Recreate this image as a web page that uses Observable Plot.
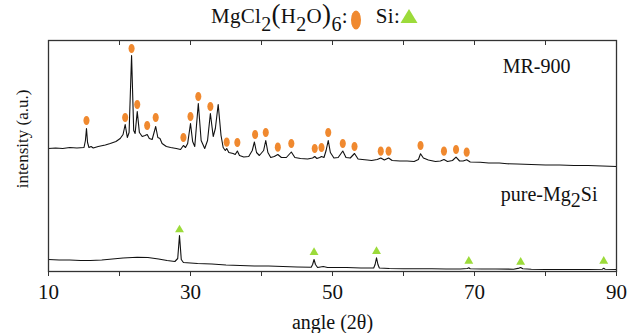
<!DOCTYPE html>
<html>
<head>
<meta charset="utf-8">
<script src="https://cdn.jsdelivr.net/npm/d3@7"></script>
<script src="https://cdn.jsdelivr.net/npm/@observablehq/plot@0.6"></script>
<style>
  body { margin: 0; background: white; }
  #wrap { position: relative; width: 629px; height: 333px; font-family: "Liberation Serif", serif; }
  #legend { position: absolute; left: 211px; top: 6px; font-size: 21px; line-height: 1; white-space: nowrap; color: #111; letter-spacing: 0.3px; }
  #legend sub { font-size: 20px; vertical-align: -0.4em; line-height: 0; }
  #legend .p { font-size: 27px; line-height: 0; }
  #legend svg { vertical-align: -7px; }
</style>
</head>
<body>
<div id="wrap">
  <div id="legend">MgCl<sub>2</sub><span class="p">(</span>H<sub>2</sub>O<span class="p">)</span><sub>6</sub>:<svg width="14" height="20" style="margin-left:2px"><ellipse cx="6" cy="10" rx="5" ry="9.5" fill="#F0892F"/></svg><span style="margin-left:12px">Si:</span><svg width="19" height="16" style="vertical-align:-1px"><path d="M9,1L17.5,15H0.5Z" fill="#9CDB3A"/></svg></div>
</div>
<script>
// x ticks
const xTicks = [10, 20, 30, 40, 50, 60, 70, 80, 90];
const xTickLabels = [10, 30, 50, 70, 90];

// MR-900 trace
const mrAngle = [10.0, 11.0, 12.0, 13.0, 14.0, 15.0, 15.2, 15.35, 15.5, 15.7, 16.0, 16.3, 17.0, 18.0, 18.7, 19.5, 20.1, 20.5, 20.8, 21.1, 21.35, 21.7, 22.0, 22.2, 22.5, 22.8, 23.2, 23.6, 23.9, 24.2, 24.6, 25.1, 25.4, 25.7, 26.0, 26.6, 27.2, 28.0, 28.6, 29.0, 29.3, 29.6, 30.0, 30.3, 30.6, 31.1, 31.5, 32.0, 32.4, 32.8, 33.2, 33.5, 33.9, 34.3, 34.6, 34.9, 35.1, 35.4, 36.0, 36.3, 36.6, 36.9, 37.5, 38.2, 38.7, 39.0, 39.3, 39.7, 40.3, 40.6, 40.9, 41.3, 41.8, 42.3, 42.8, 43.5, 44.2, 44.7, 45.5, 46.5, 47.2, 47.5, 47.8, 48.2, 48.45, 48.8, 49.1, 49.4, 49.7, 50.2, 50.8, 51.45, 51.9, 52.5, 53.1, 53.6, 54.2, 54.9, 55.5, 56.3, 56.8, 57.3, 57.9, 58.4, 59.5, 60.5, 61.5, 62.1, 62.4, 62.8, 63.5, 64.5, 65.2, 65.7, 66.2, 66.9, 67.4, 67.9, 68.4, 68.9, 69.4, 70.8, 72.0, 73.5, 74.6, 76.0, 78.0, 80.0, 82.0, 84.0, 86.0, 88.0, 90.0];
const mrIntensity = [123, 123.5, 123, 124, 123.5, 124, 131, 143, 129, 124, 125, 123.5, 125, 126.5, 128, 130, 133, 137, 147, 134, 139, 216, 141, 138, 160, 139, 135, 136, 137, 133, 132, 145, 134, 133, 128, 125, 124, 123, 122, 126, 124, 128, 148, 130, 125, 168, 131, 123, 131, 158, 135, 143, 167, 136, 124, 121, 123, 119, 118, 117, 120.5, 116, 114.5, 115, 121, 129.5, 119, 116, 121, 131, 119, 114, 115, 117, 114, 114, 119.5, 114, 113, 112.5, 113.5, 115, 113, 114, 115, 114, 121, 131, 119, 113.5, 114, 120.5, 114, 113.5, 118, 112.5, 112, 111.5, 111, 112, 113.5, 111.5, 113.5, 111, 110.5, 110.5, 110, 112, 117.7, 113.5, 111.5, 110, 110.5, 112, 110, 111, 114.3, 110.5, 110.5, 111.7, 109.5, 109.3, 108.5, 108.5, 107.7, 107.5, 107, 106.5, 106.5, 106, 106, 105.5, 105];

// pure-Mg2Si trace
const mgAngle = [10.0, 11.5, 13.0, 14.5, 15.9, 17.5, 19.0, 20.5, 22.5, 24.0, 25.5, 26.7, 27.8, 28.2, 28.45, 28.7, 29.0, 29.5, 31.0, 33.0, 35.0, 37.0, 39.0, 41.0, 43.0, 45.0, 47.0, 47.2, 47.4, 47.6, 47.9, 48.7, 49.3, 52.0, 54.0, 55.8, 56.0, 56.2, 56.4, 56.6, 58.0, 60.0, 62.0, 64.0, 66.0, 68.0, 69.0, 69.2, 69.4, 71.0, 73.0, 75.5, 76.3, 76.5, 76.8, 78.0, 80.0, 82.0, 84.0, 86.0, 88.0, 88.2, 88.4, 90.0];
const mgIntensity = [12, 11.5, 11.5, 11, 11, 11.5, 12.5, 13.5, 14.3, 14, 12.5, 11, 10, 13, 36, 12, 9, 8.7, 8, 7.5, 6.5, 6, 5.5, 5.5, 5, 4.5, 4.3, 7, 12, 7, 4, 5, 4, 4, 3.5, 3.5, 7, 13.7, 7, 3.5, 3, 2.7, 2.7, 2.7, 2.5, 2.5, 3, 3.7, 2.7, 2.5, 2.5, 2.3, 3.4, 4, 2.7, 2.3, 2, 2, 2, 2, 2.3, 3.2, 2.2, 2];

// MgCl2(H2O)6 peak markers (MR-900)
const mgclPeakAngle = [15.35, 20.8, 21.7, 22.5, 23.9, 25.1, 29.0, 30.0, 31.1, 32.8, 35.1, 36.6, 39.1, 40.6, 42.3, 44.2, 47.5, 48.45, 49.4, 51.45, 53.1, 56.8, 57.9, 62.4, 65.7, 67.4, 68.9];
const mgclPeakIntensity = [151, 154, 223, 167, 146, 154, 134, 155, 175, 165, 129.3, 129, 137, 139, 124.3, 128, 123, 124, 139, 128, 125, 120.3, 120.3, 126, 120.3, 122, 119.3];

// Si peak markers (pure-Mg2Si)
const siPeakAngle = [28.45, 47.4, 56.2, 69.2, 76.5, 88.2];
const siPeakIntensity = [41.7, 19, 20, 10.3, 9.3, 10.3];

const mr = mrAngle.map((a, i) => ({angle: a, intensity: mrIntensity[i]}));
const mg = mgAngle.map((a, i) => ({angle: a, intensity: mgIntensity[i]}));
const mgclPeaks = mgclPeakAngle.map((a, i) => ({angle: a, intensity: mgclPeakIntensity[i]}));
const siPeaks = siPeakAngle.map((a, i) => ({angle: a, intensity: siPeakIntensity[i]}));

// vertical ellipse symbol
const ellipse = {
  draw(context, size) {
    const ry = Math.sqrt(size / Math.PI), rx = ry * 0.66, k = 0.5523;
    context.moveTo(rx, 0);
    context.bezierCurveTo(rx, ry * k, rx * k, ry, 0, ry);
    context.bezierCurveTo(-rx * k, ry, -rx, ry * k, -rx, 0);
    context.bezierCurveTo(-rx, -ry * k, -rx * k, -ry, 0, -ry);
    context.bezierCurveTo(rx * k, -ry, rx, -ry * k, rx, 0);
    context.closePath();
  }
};

const chart = Plot.plot({
  width: 629,
  height: 333,
  marginLeft: 48,
  marginRight: 13,
  marginTop: 40,
  marginBottom: 62,
  style: {fontFamily: "Liberation Serif", background: "transparent", color: "#111"},
  x: {domain: [10, 90]},
  y: {domain: [0, 231], axis: null},
  marks: [
    Plot.line(mr, {x: "angle", y: "intensity", stroke: "#111", strokeWidth: 1.1}),
    Plot.line(mg, {x: "angle", y: "intensity", stroke: "#111", strokeWidth: 1.1}),
    Plot.dot(mgclPeaks, {x: "angle", y: "intensity", r: 4.6, fill: "#F0892F", symbol: ellipse}),
    Plot.dot(siPeaks, {x: "angle", y: "intensity", r: 3.3, fill: "#9CDB3A", symbol: "triangle"}),
    Plot.frame({stroke: "#333", strokeWidth: 1.3}),
    Plot.axisX({ticks: xTicks, tickSize: 5, tickPadding: 8, fontSize: 21, stroke: "#333",
      tickFormat: d => xTickLabels.includes(d) ? String(d) : "", label: null}),
    Plot.axisX({anchor: "top", ticks: xTicks, tickSize: -4, stroke: "#333", tickFormat: () => "", label: null}),
    Plot.text(["MR-900"], {frameAnchor: "top-right", textAnchor: "end", lineAnchor: "middle", dx: -46, dy: 26, fontSize: 20}),
    Plot.text(["pure-Mg2Si"], {frameAnchor: "top-right", textAnchor: "end", lineAnchor: "middle", dx: -19, dy: 154, fontSize: 20}),
    Plot.text(["angle (2θ)"], {frameAnchor: "bottom", lineAnchor: "middle", dy: 51, fontSize: 20}),
    Plot.text(["intensity (a.u.)"], {frameAnchor: "left", textAnchor: "middle", lineAnchor: "middle", rotate: -90, dx: -26, dy: -17, fontSize: 17})
  ]
});

d3.select(chart).selectAll("text").filter(function() { return this.textContent === "pure-Mg2Si"; })
  .each(function() {
    const t = d3.select(this);
    t.text(null);
    t.append("tspan").text("pure-Mg");
    t.append("tspan").attr("dy", "0.3em").text("2");
    t.append("tspan").attr("dy", "-0.3em").text("Si");
  });

document.getElementById("wrap").prepend(chart);
</script>
</body>
</html>
